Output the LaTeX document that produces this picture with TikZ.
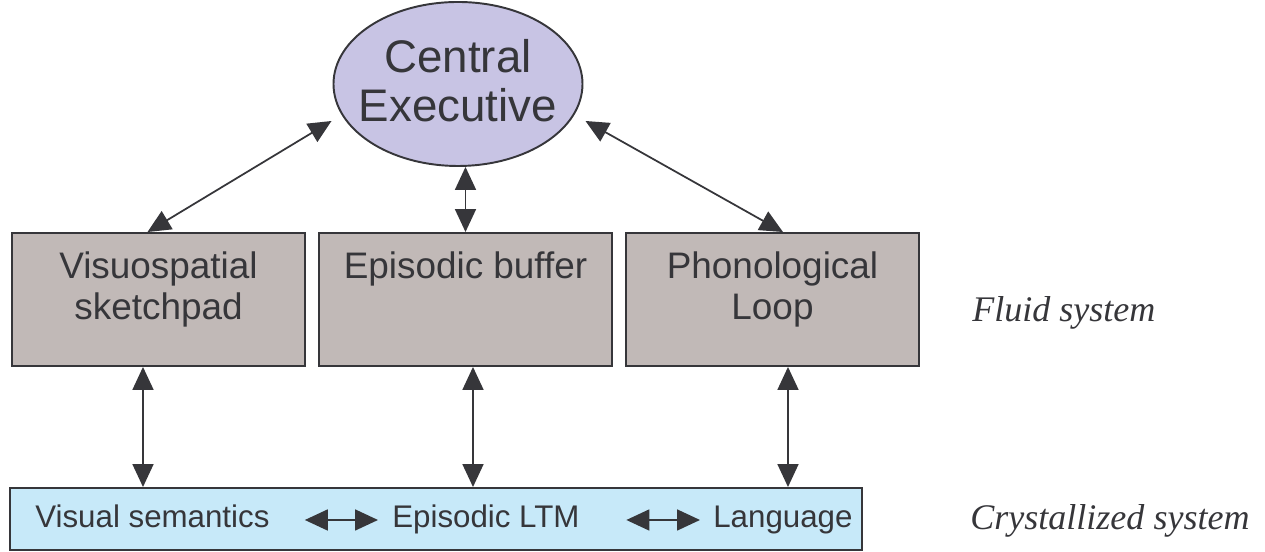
\documentclass[tikz,border=0pt]{standalone}
\usepackage{fontspec}
\setmainfont{Liberation Serif}
\setsansfont{Liberation Sans}
\usetikzlibrary{arrows.meta,shapes.geometric}

\definecolor{inkgray}{RGB}{54,54,58}
\definecolor{boxfill}{RGB}{193,185,183}
\definecolor{execfill}{RGB}{200,196,228}
\definecolor{ltmfill}{RGB}{199,233,249}

\tikzset{
  biarrow/.style={{Triangle[length=0.46cm,width=0.42cm]}-{Triangle[length=0.46cm,width=0.42cm]},line width=1pt,draw=inkgray},
  slavebox/.style={draw=inkgray,line width=1.1pt,fill=boxfill,minimum width=5.86cm,minimum height=2.66cm,inner sep=0pt},
  boxtext/.style={anchor=north,inner sep=0pt,align=center,text=inkgray,font=\sffamily\fontsize{21}{23.3}\selectfont},
  ltmtext/.style={anchor=base west,inner sep=0pt,text height=0.45cm,text depth=0.13cm,text=inkgray,font=\sffamily\fontsize{17.8}{20}\selectfont},
  sidetext/.style={anchor=base west,inner sep=0pt,text=inkgray,font=\itshape\fontsize{20.5}{24}\selectfont}
}

\begin{document}
\begin{tikzpicture}
    \useasboundingbox (0,0) rectangle (25.3,11.04);

    % Central executive
    \node[ellipse,draw=inkgray,line width=1.1pt,fill=execfill,minimum width=4.98cm,minimum height=3.28cm,inner sep=0pt] (ce) at (9.16,9.36) {};
    \node[inner sep=0pt,align=center,text=inkgray,font=\sffamily\fontsize{26}{28}\selectfont] (cetxt) at ([yshift=0.06cm]ce.center) {Central\\Executive};

    % the three slave systems
    \node[slavebox] (vsp) at (3.17,5.05) {};
    \node[slavebox] (eb) at (9.31,5.05) {};
    \node[slavebox] (pl) at (15.45,5.05) {};
    \node[boxtext] (vsptxt) at ([yshift=-0.38cm]vsp.north) {Visuospatial\\sketchpad};
    \node[boxtext] (ebtxt) at ([yshift=-0.38cm]eb.north) {Episodic buffer};
    \node[boxtext] (pltxt) at ([yshift=-0.38cm]pl.north) {Phonological\\Loop};

    % long-term memory
    \node[draw=inkgray,line width=1.1pt,fill=ltmfill,minimum width=17.04cm,minimum height=1.24cm,inner sep=0pt] (ltm) at (8.72,0.66) {};
    \node[ltmtext] (vsem) at (0.70,0.48) {Visual semantics};
    \node[ltmtext] (eltm) at (7.84,0.48) {Episodic LTM};
    \node[ltmtext] (lang) at (14.26,0.48) {Language};
    \draw[biarrow,shorten <=0.70cm,shorten >=0.28cm] (vsem.east) -- (eltm.west);
    \draw[biarrow,shorten <=0.93cm,shorten >=0.26cm] (eltm.east) -- (lang.west);

    % side labels
    \node[sidetext] (fluid) at (19.44,4.60) {Fluid system};
    \node[sidetext] (cryst) at (19.40,0.44) {Crystallized system};

    % executive to slaves
    \draw[biarrow] ([xshift=-0.02cm,yshift=-0.74cm]ce.west) -- ([xshift=-0.22cm]vsp.north);
    \draw[biarrow] (eb.north |- ce.south) -- (eb.north);
    \draw[biarrow] ([xshift=0.04cm,yshift=-0.74cm]ce.east) -- ([xshift=0.21cm]pl.north);

    % slaves to long-term memory
    \draw[biarrow] ([xshift=-0.31cm]vsp.south) -- ([xshift=-0.31cm]vsp.south |- ltm.north);
    \draw[biarrow] ([xshift=0.15cm]eb.south) -- ([xshift=0.15cm]eb.south |- ltm.north);
    \draw[biarrow] ([xshift=0.31cm]pl.south) -- ([xshift=0.31cm]pl.south |- ltm.north);

\end{tikzpicture}
\end{document}
